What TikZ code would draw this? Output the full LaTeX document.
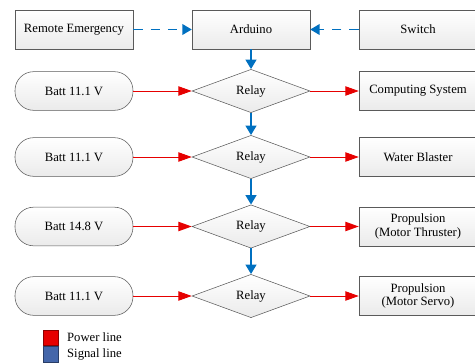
\documentclass[tikz,border=0pt]{standalone}
\usepackage{fontspec}
\setmainfont{Liberation Serif}
\newfontfamily\diagfont{Liberation Serif}
\usetikzlibrary{arrows.meta,shapes.geometric,positioning}
\definecolor{pwrred}{RGB}{230,0,0}
\definecolor{sigblue}{RGB}{0,112,192}
\definecolor{legblue}{RGB}{68,102,170}
\definecolor{edgegray}{RGB}{90,90,90}

\begin{document}
\begin{tikzpicture}[
    x=0.75pt, y=-0.75pt,
    font=\diagfont\fontsize{9.5}{10}\selectfont,
    box/.style={rectangle, draw=edgegray, top color=white, bottom color=gray!16, minimum width=88.5pt, minimum height=29pt, align=center, inner sep=1pt},
    batt/.style={box, rounded corners=14pt},
    relay/.style={diamond, draw=edgegray, top color=white, bottom color=gray!16, minimum width=88.5pt, minimum height=32.5pt, inner sep=0pt},
    power/.style={draw=pwrred, line width=0.7pt, -{Triangle[length=10pt,width=7pt]}},
    signal/.style={draw=sigblue, line width=1.4pt, -{Triangle[length=7pt,width=8pt]}},
    dashsig/.style={signal, line width=1.1pt, dash pattern=on 7pt off 6pt}
]
    \useasboundingbox (0,0) rectangle (475,364);

    % top row
    \node[box] (remote) at (74,29.5) {Remote Emergency};
    \node[box] (arduino) at (251,29.5) {Arduino};
    \node[box] (switch) at (418,29.5) {Switch};

    % batteries
    \node[batt] (batt1) at (74,91) {Batt 11.1 V};
    \node[batt] (batt2) at (74,157) {Batt 11.1 V};
    \node[batt] (batt3) at (74,226.5) {Batt 14.8 V};
    \node[batt] (batt4) at (74,296) {Batt 11.1 V};

    % relays
    \node[relay] (relay1) at (251,91) {Relay};
    \node[relay] (relay2) at (251,157) {Relay};
    \node[relay] (relay3) at (251,226.5) {Relay};
    \node[relay] (relay4) at (251,296) {Relay};

    % loads
    \node[box] (comp) at (418,91) {Computing System};
    \node[box] (water) at (418,157) {Water Blaster};
    \node[box] (thrust) at (418,226.5) {Propulsion\\(Motor Thruster)};
    \node[box] (servo) at (418,296) {Propulsion\\(Motor Servo)};

    % legend
    \node[rectangle, fill=pwrred, draw=pwrred!60!black, minimum size=11.5pt, inner sep=0pt] (legpwr) at (51,337.5) {};
    \node[rectangle, fill=legblue, draw=legblue!60!black, minimum size=11.5pt, inner sep=0pt, below=0.6pt of legpwr] (legsig) {};
    \node[right=6pt of legpwr, inner sep=0pt] (legpwrtxt) {Power line};
    \node[right=6pt of legsig, inner sep=0pt] (legsigtxt) {Signal line};

    \draw[dashsig] (remote) -- (arduino);
    \draw[dashsig] (switch) -- (arduino);
    \draw[signal] (arduino) -- (relay1);
    \draw[signal] (relay1) -- (relay2);
    \draw[signal] (relay2) -- (relay3);
    \draw[signal] (relay3) -- (relay4);

    \draw[power] (batt1) -- (relay1);
    \draw[power] (batt2) -- (relay2);
    \draw[power] (batt3) -- (relay3);
    \draw[power] (batt4) -- (relay4);
    \draw[power] (relay1) -- (comp);
    \draw[power] (relay2) -- (water);
    \draw[power] (relay3) -- (thrust);
    \draw[power] (relay4) -- (servo);
\end{tikzpicture}
\end{document}
